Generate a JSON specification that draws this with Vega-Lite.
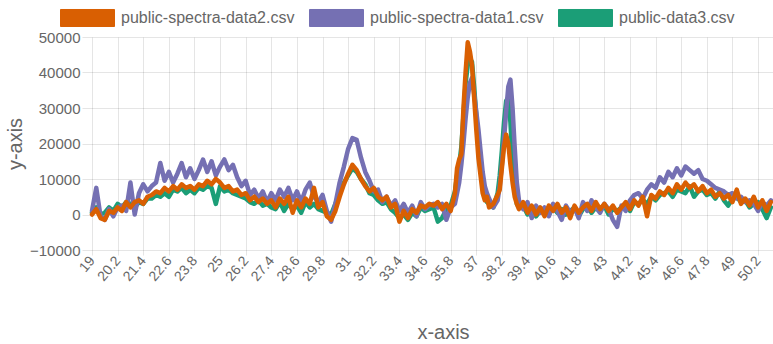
{
  "$schema": "https://vega.github.io/schema/vega-lite/v6.json",
  "width": 681,
  "height": 213,
  "autosize": {"type": "none"},
  "padding": {"left": 92, "top": 37, "right": 0, "bottom": 94},
  "background": "white",
  "config": {
    "font": "Liberation Sans",
    "view": {"stroke": null},
    "axis": {"gridColor": "#000000", "gridOpacity": 0.1, "tickColor": "#000000", "tickOpacity": 0.1, "domainColor": "#000000", "domainOpacity": 0.1, "labelColor": "#666666", "titleColor": "#666666", "labelFontSize": 15, "titleFontSize": 20, "titleFontWeight": "normal"}
  },
  "data": {"values": [
    {"x":19.0,"a":0,"b":1000,"c":500},
    {"x":19.2,"a":1500,"b":7500,"c":2000},
    {"x":19.4,"a":-1000,"b":-500,"c":0},
    {"x":19.6,"a":-1500,"b":-1500,"c":500},
    {"x":19.8,"a":1000,"b":1500,"c":2000},
    {"x":20.0,"a":500,"b":-500,"c":1000},
    {"x":20.2,"a":2000,"b":2000,"c":3000},
    {"x":20.4,"a":1000,"b":2500,"c":2000},
    {"x":20.6,"a":3500,"b":1000,"c":3500},
    {"x":20.8,"a":2000,"b":9000,"c":3000},
    {"x":21.0,"a":3500,"b":0,"c":2000},
    {"x":21.2,"a":4000,"b":6000,"c":3500},
    {"x":21.4,"a":3000,"b":8500,"c":3000},
    {"x":21.6,"a":5000,"b":6500,"c":4500},
    {"x":21.8,"a":5500,"b":8000,"c":4500},
    {"x":22.0,"a":6500,"b":9000,"c":5500},
    {"x":22.2,"a":6000,"b":14500,"c":5000},
    {"x":22.4,"a":7500,"b":9500,"c":6000},
    {"x":22.6,"a":6500,"b":12000,"c":5000},
    {"x":22.8,"a":8000,"b":9000,"c":7000},
    {"x":23.0,"a":7000,"b":11500,"c":6500},
    {"x":23.2,"a":8500,"b":14500,"c":7500},
    {"x":23.4,"a":7500,"b":10500,"c":6000},
    {"x":23.6,"a":8000,"b":13000,"c":7000},
    {"x":23.8,"a":7000,"b":10000,"c":6000},
    {"x":24.0,"a":8500,"b":12500,"c":7500},
    {"x":24.2,"a":8000,"b":15500,"c":7000},
    {"x":24.4,"a":9500,"b":12000,"c":8000},
    {"x":24.6,"a":8500,"b":15000,"c":7500},
    {"x":24.8,"a":10000,"b":11000,"c":3000},
    {"x":25.0,"a":9000,"b":13500,"c":8000},
    {"x":25.2,"a":7500,"b":15500,"c":6500},
    {"x":25.4,"a":8000,"b":12500,"c":7000},
    {"x":25.6,"a":6500,"b":14000,"c":6000},
    {"x":25.8,"a":7000,"b":10500,"c":5500},
    {"x":26.0,"a":5500,"b":8000,"c":5000},
    {"x":26.2,"a":6000,"b":9500,"c":4500},
    {"x":26.4,"a":4000,"b":5500,"c":3500},
    {"x":26.6,"a":5000,"b":7000,"c":3000},
    {"x":26.8,"a":3500,"b":4500,"c":4000},
    {"x":27.0,"a":4500,"b":6500,"c":2500},
    {"x":27.2,"a":3000,"b":3500,"c":3000},
    {"x":27.4,"a":4000,"b":6000,"c":2000},
    {"x":27.6,"a":2000,"b":4000,"c":1500},
    {"x":27.8,"a":4500,"b":7000,"c":3500},
    {"x":28.0,"a":3000,"b":5000,"c":1000},
    {"x":28.2,"a":5000,"b":7500,"c":3000},
    {"x":28.4,"a":500,"b":4000,"c":1500},
    {"x":28.6,"a":4000,"b":6500,"c":2500},
    {"x":28.8,"a":2000,"b":3500,"c":500},
    {"x":29.0,"a":4500,"b":7000,"c":3500},
    {"x":29.2,"a":3000,"b":9000,"c":2000},
    {"x":29.4,"a":7500,"b":5000,"c":3000},
    {"x":29.6,"a":2000,"b":3500,"c":1500},
    {"x":29.8,"a":3500,"b":5500,"c":1000},
    {"x":30.0,"a":-500,"b":1000,"c":500},
    {"x":30.2,"a":-1500,"b":-2000,"c":0},
    {"x":30.4,"a":1000,"b":3000,"c":3000},
    {"x":30.6,"a":5000,"b":9000,"c":6000},
    {"x":30.8,"a":8500,"b":13500,"c":9000},
    {"x":31.0,"a":11500,"b":18500,"c":11000},
    {"x":31.2,"a":14000,"b":21500,"c":13000},
    {"x":31.4,"a":12500,"b":21000,"c":12000},
    {"x":31.6,"a":10000,"b":16000,"c":10000},
    {"x":31.8,"a":8000,"b":12000,"c":8500},
    {"x":32.0,"a":6500,"b":9500,"c":6000},
    {"x":32.2,"a":7500,"b":6500,"c":5500},
    {"x":32.4,"a":5000,"b":7000,"c":4000},
    {"x":32.6,"a":4000,"b":3500,"c":3000},
    {"x":32.8,"a":5000,"b":5000,"c":3500},
    {"x":33.0,"a":2000,"b":2500,"c":1500},
    {"x":33.2,"a":3000,"b":4000,"c":500},
    {"x":33.4,"a":-2000,"b":1000,"c":-1000},
    {"x":33.6,"a":1000,"b":3000,"c":0},
    {"x":33.8,"a":-1000,"b":500,"c":-1500},
    {"x":34.0,"a":1500,"b":2500,"c":500},
    {"x":34.2,"a":500,"b":-500,"c":-500},
    {"x":34.4,"a":2500,"b":3500,"c":2000},
    {"x":34.6,"a":2000,"b":1500,"c":1000},
    {"x":34.8,"a":3000,"b":2500,"c":1500},
    {"x":35.0,"a":2500,"b":3000,"c":2000},
    {"x":35.2,"a":3500,"b":2000,"c":-2000},
    {"x":35.4,"a":1500,"b":3000,"c":-1000},
    {"x":35.6,"a":3000,"b":-1500,"c":1500},
    {"x":35.8,"a":1000,"b":2000,"c":2500},
    {"x":36.0,"a":6000,"b":3000,"c":6500},
    {"x":36.1,"a":13000,"b":6000,"c":11000},
    {"x":36.2,"a":15500,"b":9000,"c":14000},
    {"x":36.3,"a":17000,"b":14000,"c":19000},
    {"x":36.4,"a":30000,"b":20000,"c":28000},
    {"x":36.5,"a":40000,"b":27000,"c":37000},
    {"x":36.6,"a":48500,"b":33000,"c":42000},
    {"x":36.7,"a":46000,"b":37000,"c":44000},
    {"x":36.8,"a":42000,"b":38500,"c":43000},
    {"x":36.9,"a":33000,"b":34000,"c":36000},
    {"x":37.0,"a":24000,"b":29000,"c":28000},
    {"x":37.1,"a":16000,"b":24000,"c":20000},
    {"x":37.2,"a":11000,"b":18000,"c":13000},
    {"x":37.3,"a":6000,"b":12000,"c":8000},
    {"x":37.4,"a":4000,"b":8000,"c":5000},
    {"x":37.5,"a":5000,"b":6000,"c":3500},
    {"x":37.6,"a":2000,"b":4500,"c":3000},
    {"x":37.8,"a":3000,"b":2000,"c":2000},
    {"x":38.0,"a":5500,"b":4000,"c":6000},
    {"x":38.1,"a":7000,"b":8000,"c":11000},
    {"x":38.2,"a":13000,"b":14000,"c":18000},
    {"x":38.3,"a":19000,"b":21000,"c":26000},
    {"x":38.4,"a":22500,"b":29000,"c":32000},
    {"x":38.5,"a":20000,"b":36000,"c":33000},
    {"x":38.6,"a":14000,"b":38000,"c":26000},
    {"x":38.7,"a":9000,"b":30000,"c":15000},
    {"x":38.8,"a":5000,"b":19000,"c":8000},
    {"x":38.9,"a":3000,"b":9000,"c":3000},
    {"x":39.0,"a":1500,"b":4000,"c":2000},
    {"x":39.2,"a":3500,"b":1500,"c":2500},
    {"x":39.4,"a":500,"b":3500,"c":0},
    {"x":39.6,"a":2500,"b":-1000,"c":1500},
    {"x":39.8,"a":0,"b":2500,"c":-500},
    {"x":40.0,"a":2000,"b":500,"c":1000},
    {"x":40.2,"a":-500,"b":2000,"c":1500},
    {"x":40.4,"a":2500,"b":-500,"c":0},
    {"x":40.6,"a":1000,"b":3000,"c":2000},
    {"x":40.8,"a":3000,"b":1000,"c":500},
    {"x":41.0,"a":500,"b":-1500,"c":1500},
    {"x":41.2,"a":2000,"b":2500,"c":0},
    {"x":41.4,"a":-1000,"b":500,"c":1000},
    {"x":41.6,"a":2500,"b":2000,"c":2000},
    {"x":41.8,"a":500,"b":-1000,"c":-500},
    {"x":42.0,"a":2000,"b":3500,"c":1500},
    {"x":42.2,"a":3000,"b":1000,"c":2500},
    {"x":42.4,"a":1000,"b":4000,"c":500},
    {"x":42.6,"a":3500,"b":2000,"c":2000},
    {"x":42.8,"a":1500,"b":500,"c":1000},
    {"x":43.0,"a":3000,"b":3000,"c":2500},
    {"x":43.2,"a":1000,"b":1500,"c":0},
    {"x":43.4,"a":2500,"b":-1500,"c":1500},
    {"x":43.6,"a":500,"b":-3500,"c":1000},
    {"x":43.8,"a":2000,"b":2500,"c":2000},
    {"x":44.0,"a":3500,"b":1000,"c":2500},
    {"x":44.2,"a":1500,"b":4000,"c":1000},
    {"x":44.4,"a":4000,"b":5500,"c":3500},
    {"x":44.6,"a":2500,"b":6000,"c":3000},
    {"x":44.8,"a":5000,"b":4500,"c":4000},
    {"x":45.0,"a":-500,"b":7000,"c":3000},
    {"x":45.2,"a":5500,"b":8500,"c":5000},
    {"x":45.4,"a":4500,"b":7500,"c":4000},
    {"x":45.6,"a":6500,"b":10500,"c":5500},
    {"x":45.8,"a":5500,"b":9000,"c":6000},
    {"x":46.0,"a":7500,"b":12000,"c":6500},
    {"x":46.2,"a":6000,"b":10500,"c":5000},
    {"x":46.4,"a":8500,"b":13000,"c":7000},
    {"x":46.6,"a":7000,"b":11000,"c":6500},
    {"x":46.8,"a":9000,"b":13500,"c":6000},
    {"x":47.0,"a":7500,"b":12500,"c":8000},
    {"x":47.2,"a":8500,"b":11500,"c":5000},
    {"x":47.4,"a":6500,"b":12500,"c":6500},
    {"x":47.6,"a":8000,"b":10000,"c":7000},
    {"x":47.8,"a":6000,"b":9500,"c":5500},
    {"x":48.0,"a":7000,"b":8500,"c":6000},
    {"x":48.2,"a":5000,"b":7500,"c":4500},
    {"x":48.4,"a":6000,"b":7000,"c":6500},
    {"x":48.6,"a":4500,"b":6500,"c":4000},
    {"x":48.8,"a":5500,"b":5500,"c":2500},
    {"x":49.0,"a":3500,"b":6000,"c":4500},
    {"x":49.2,"a":7000,"b":4500,"c":5000},
    {"x":49.4,"a":3000,"b":5000,"c":3500},
    {"x":49.6,"a":4500,"b":3500,"c":4000},
    {"x":49.8,"a":2500,"b":4000,"c":2000},
    {"x":50.0,"a":5000,"b":3000,"c":3000},
    {"x":50.2,"a":2000,"b":1000,"c":3500},
    {"x":50.4,"a":4000,"b":3500,"c":1500},
    {"x":50.6,"a":1000,"b":2500,"c":-1000},
    {"x":50.8,"a":3500,"b":4000,"c":2000}
  ]},
  "transform": [{"fold": ["a", "b", "c"], "as": ["k", "v"]}],
  "encoding": {
    "x": {
      "field": "x", "type": "quantitative",
      "scale": {"domain": [19, 50.9], "nice": false, "zero": false},
      "axis": {
        "title": "x-axis",
        "values": [19, 20.2, 21.4, 22.6, 23.8, 25, 26.2, 27.4, 28.6, 29.8, 31, 32.2, 33.4, 34.6, 35.8, 37, 38.2, 39.4, 40.6, 41.8, 43, 44.2, 45.4, 46.6, 47.8, 49, 50.2],
        "format": ".1~f",
        "labelAngle": -50, "labelAlign": "right", "labelBaseline": "middle",
        "labelOverlap": false, "labelBound": false, "labelFlush": false,
        "labelPadding": 3, "tickSize": 5, "labelFontSize": 14,
        "domain": false,
        "titleX": 351, "titleY": 88, "titleBaseline": "alphabetic", "titleAlign": "center"
      }
    },
    "y": {
      "field": "v", "type": "quantitative",
      "scale": {"domain": [-10000, 50000], "nice": false},
      "axis": {
        "title": "y-axis",
        "values": [-10000, 0, 10000, 20000, 30000, 40000, 50000],
        "format": "d",
        "tickSize": 10, "labelPadding": 2,
        "labelOverlap": false, "labelFlush": false,
        "domain": false,
        "titleX": -77, "titleY": 106.5, "titleAngle": -90, "titleBaseline": "middle", "titleAlign": "center"
      }
    },
    "color": {
      "field": "k", "type": "nominal",
      "scale": {"domain": ["a", "b", "c"], "range": ["#d95f02", "#7570b3", "#1b9e77"]},
      "legend": {
        "title": null,
        "orient": "none", "legendX": -32, "legendY": -47,
        "direction": "horizontal",
        "symbolType": "M-1,-0.315H1V0.315H-1Z",
        "symbolSize": 2916,
        "symbolStrokeWidth": 1,
        "symbolOpacity": 1,
        "labelFontSize": 16, "labelColor": "#666666", "labelOffset": 6, "labelLimit": 400,
        "columnPadding": 12,
        "labelExpr": "datum.label == 'a' ? 'public-spectra-data2.csv' : datum.label == 'b' ? 'public-spectra-data1.csv' : 'public-data3.csv'",
        "encode": {"symbols": {"update": {"fill": {"scale": "color", "field": "value"}, "stroke": {"scale": "color", "field": "value"}, "fillOpacity": {"value": 1}}}}
      }
    }
  },
  "layer": [
    {"transform": [{"filter": "datum.k === 'c'"}], "mark": {"type": "line", "strokeWidth": 4.5, "strokeJoin": "round", "strokeCap": "round"}},
    {"transform": [{"filter": "datum.k === 'b'"}], "mark": {"type": "line", "strokeWidth": 4.5, "strokeJoin": "round", "strokeCap": "round"}},
    {"transform": [{"filter": "datum.k === 'a'"}], "mark": {"type": "line", "strokeWidth": 4.5, "strokeJoin": "round", "strokeCap": "round"}}
  ]
}
